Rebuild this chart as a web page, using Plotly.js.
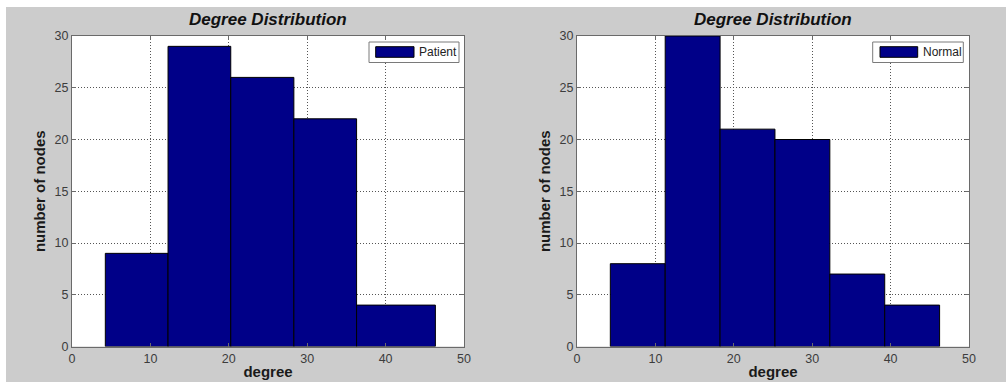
<!DOCTYPE html>
<html>
<head>
<meta charset="utf-8">
<script src="https://cdn.plot.ly/plotly-3.0.1.min.js"></script>
<style>
  html, body { margin: 0; padding: 0; background: #ffffff; }
  #chart { position: absolute; left: 6px; top: 7px; width: 1000px; height: 375px; }
</style>
</head>
<body>
<div id="chart"></div>
<script>
// ---- data ----
const chartTitle = "Degree Distribution";
const xLabel = "degree";
const yLabel = "number of nodes";

const patientName = "Patient";
const patientEdges = [4.25, 12.25, 20.25, 28.3, 36.3, 46.35];
const patientCounts = [9, 29, 26, 22, 4];

const normalName = "Normal";
const normalEdges = [4.25, 11.25, 18.25, 25.25, 32.25, 39.25, 46.25];
const normalCounts = [8, 30, 21, 20, 7, 4];

const xTicks = [0, 10, 20, 30, 40, 50];
const yTicks = [0, 5, 10, 15, 20, 25, 30];

// ---- build ----
const BAR = '#000088';
const FONT = 'Liberation Sans, Arial, sans-serif';

function centers(edges) { return edges.slice(0, -1).map((e, i) => (e + edges[i + 1]) / 2); }
function widths(edges) { return edges.slice(0, -1).map((e, i) => edges[i + 1] - e); }

function barTrace(name, edges, counts, xa, ya) {
  return {
    type: 'bar', name: name,
    x: centers(edges), y: counts, width: widths(edges),
    xaxis: xa, yaxis: ya,
    marker: { color: BAR, line: { color: '#000000', width: 1 } },
    showlegend: false, hoverinfo: 'x+y'
  };
}

const data = [
  barTrace(patientName, patientEdges, patientCounts, 'x', 'y'),
  barTrace(normalName, normalEdges, normalCounts, 'x2', 'y2')
];

const W = 1000, H = 375, OX = 6, OY = 7;
const px = v => (v - OX) / W;
const py = v => 1 - (v - OY) / H;

function xaxis(domain, anchor) {
  return {
    domain: domain, anchor: anchor, range: [0, 50], tickvals: xTicks,
    showline: true, mirror: 'ticks', linecolor: '#6a6a6a', linewidth: 1,
    ticks: 'inside', ticklen: 4, tickcolor: '#6a6a6a',
    showgrid: true, gridcolor: '#555555', griddash: '1px,2px', gridwidth: 1,
    zeroline: false, fixedrange: true,
    tickfont: { family: FONT, size: 12.5, color: '#3c3c3c' },
    title: { text: xLabel, standoff: 1, font: { family: FONT, size: 15, color: '#1a1a1a', weight: 'bold' } }
  };
}
function yaxis(anchor) {
  return {
    domain: [py(346.5), py(36)], anchor: anchor, range: [0, 30], tickvals: yTicks,
    showline: true, mirror: 'ticks', linecolor: '#6a6a6a', linewidth: 1,
    ticks: 'inside', ticklen: 4, tickcolor: '#6a6a6a',
    showgrid: true, gridcolor: '#555555', griddash: '1px,2px', gridwidth: 1,
    zeroline: false, fixedrange: true,
    tickfont: { family: FONT, size: 12.5, color: '#3c3c3c' },
    title: { text: yLabel, standoff: 5, font: { family: FONT, size: 15, color: '#1a1a1a', weight: 'bold' } }
  };
}

function legendShapes(x0, x1, sx0, sx1) {
  return [
    { type: 'rect', xref: 'paper', yref: 'paper', x0: px(x0), x1: px(x1), y0: py(62.5), y1: py(42),
      fillcolor: '#ffffff', line: { color: '#7a7a7a', width: 1 } },
    { type: 'rect', xref: 'paper', yref: 'paper', x0: px(sx0), x1: px(sx1), y0: py(57.3), y1: py(46.7),
      fillcolor: BAR, line: { color: '#000000', width: 1 } }
  ];
}

const layout = {
  width: W, height: H,
  paper_bgcolor: '#cccccc', plot_bgcolor: '#ffffff',
  margin: { l: 0, r: 0, t: 0, b: 0, pad: 0 },
  font: { family: FONT },
  bargap: 0,
  xaxis: xaxis([px(72), px(464)], 'y'),
  yaxis: yaxis('x'),
  xaxis2: xaxis([px(577), px(969)], 'y2'),
  yaxis2: yaxis('x2'),
  shapes: [].concat(legendShapes(369, 459, 375.7, 414), legendShapes(872.7, 963.3, 880, 917.7)),
  annotations: [
    { text: chartTitle, xref: 'paper', yref: 'paper', x: px(268), y: py(20), xanchor: 'center', yanchor: 'middle', showarrow: false,
      font: { family: FONT, size: 17, color: '#111111', weight: 'bold', style: 'italic' } },
    { text: chartTitle, xref: 'paper', yref: 'paper', x: px(773), y: py(20), xanchor: 'center', yanchor: 'middle', showarrow: false,
      font: { family: FONT, size: 17, color: '#111111', weight: 'bold', style: 'italic' } },
    { text: patientName, xref: 'paper', yref: 'paper', x: px(416.5), y: py(52.3), xanchor: 'left', yanchor: 'middle', showarrow: false,
      font: { family: FONT, size: 12, color: '#222222' } },
    { text: normalName, xref: 'paper', yref: 'paper', x: px(920.5), y: py(52.3), xanchor: 'left', yanchor: 'middle', showarrow: false,
      font: { family: FONT, size: 12, color: '#222222' } }
  ]
};

Plotly.newPlot('chart', data, layout, { displayModeBar: false, staticPlot: true });
</script>
</body>
</html>
